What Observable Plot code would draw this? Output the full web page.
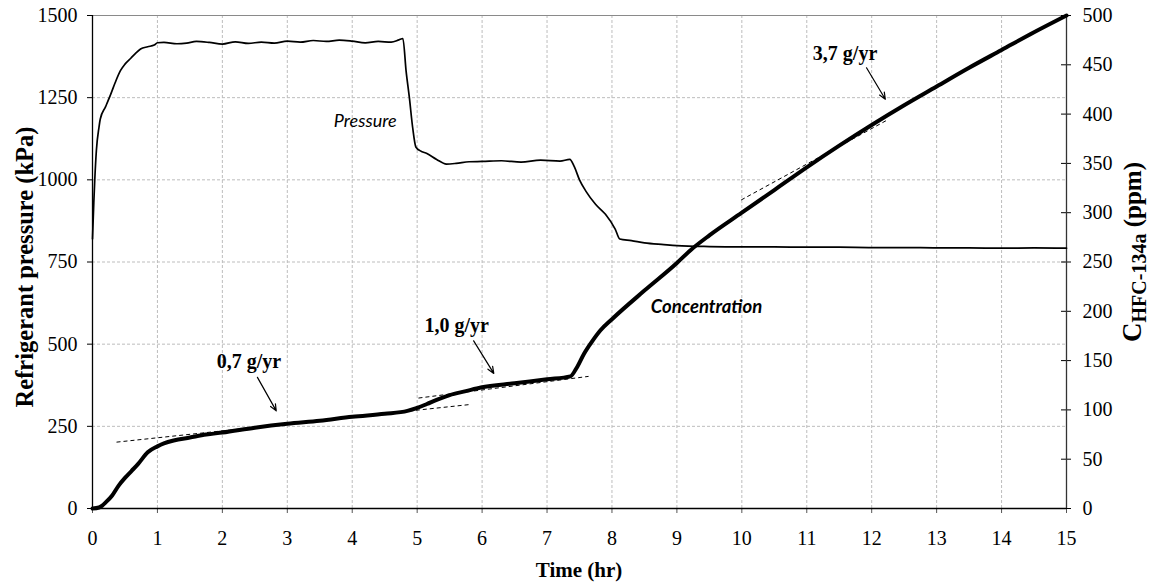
<!DOCTYPE html>
<html>
<head>
<meta charset="utf-8">
<script src="https://cdn.jsdelivr.net/npm/d3@7"></script>
<script src="https://cdn.jsdelivr.net/npm/@observablehq/plot@0.6"></script>
<style>
  html, body { margin: 0; padding: 0; background: #fff; }
  #chart svg { display: block; }
</style>
</head>
<body>
<div id="chart"></div>
<script>
// ---- Data ----
const xTicks = [0,1,2,3,4,5,6,7,8,9,10,11,12,13,14,15];
const pressureTicks = [0,250,500,750,1000,1250,1500];
const concTicks = [0,50,100,150,200,250,300,350,400,450,500];

const pressureT   = [0,0.02,0.035,0.06,0.1,0.12,0.2,0.28,0.35,0.43,0.5,0.59,0.67,0.74,0.85,0.95,1.0,1.1,1.3,1.45,1.6,1.8,2.0,2.2,2.4,2.6,2.8,3.0,3.2,3.4,3.6,3.8,4.0,4.2,4.4,4.6,4.72,4.78,4.83,4.88,4.93,4.98,5.05,5.15,5.3,5.45,5.6,5.8,6.0,6.3,6.6,6.9,7.2,7.35,7.42,7.5,7.6,7.75,7.9,8.05,8.12,8.3,8.5,8.8,9.0,9.5,10,10.5,11,11.5,12,12.5,13,13.5,14,14.5,15];
const pressureKPa = [820,930,1000,1090,1160,1185,1222,1260,1296,1332,1352,1370,1386,1398,1405,1410,1417,1418,1414,1416,1421,1418,1413,1420,1415,1419,1416,1422,1419,1424,1421,1425,1422,1417,1421,1419,1426,1430,1330,1250,1160,1100,1088,1080,1062,1048,1050,1055,1056,1058,1054,1060,1057,1062,1040,1000,965,925,895,850,820,815,808,803,800,797,796,796,795,795,794,794,793,793,792,793,792];

const concT   = [0,0.1,0.15,0.2,0.3,0.4,0.5,0.6,0.7,0.85,1.0,1.1,1.25,1.5,1.75,2.0,2.5,3.0,3.5,4.0,4.5,4.85,5.0,5.15,5.31,5.5,5.75,5.98,6.5,7.0,7.36,7.45,7.57,7.7,7.82,8.0,8.5,9.0,9.21,9.5,10,10.5,11,11.5,12,12.5,13,13.5,14,14.5,15];
const concPPM = [0,1,3,6,13,23,31,38,45,57,63,66,69,72,75,77,82,86,89,93,96,99,102,106,110.5,115,119,122.7,127,131,134,142,157,170,180.5,192,221,249,262,277,300,323,346,368,389,409,428,447,465,483,500];

// dashed trend lines (time, ppm)
const trendT1 = [0.37, 5.02, 9.99];
const trendT2 = [5.82, 7.64, 12.24];
const trendP1 = [67.3, 112.0, 312.9];
const trendP2 = [105.5, 134.0, 394.0];

// rate labels and arrows (time, ppm)
const rateLabels = ["0,7 g/yr", "1,0 g/yr", "3,7 g/yr"];
const rateLabelT = [2.41, 5.61, 11.59];
const rateLabelP = [149, 186, 461];
const arrowT1 = [2.54, 5.87, 11.92];
const arrowP1 = [133, 170, 447];
const arrowT2 = [2.83, 6.18, 12.21];
const arrowP2 = [99, 137, 415];

const seriesLabels = ["Pressure", "Concentration"];
const seriesLabelT = [4.20, 9.456];
const seriesLabelKPa = [1178, 612];

// ---- Tables built from arrays ----
const K = 3; // 1 ppm drawn as 3 kPa (500 ppm <-> 1500 kPa)
const pressure = pressureT.map((t,i) => ({t, v: pressureKPa[i]}));
const conc = concT.map((t,i) => ({t, v: concPPM[i]*K}));
const trends = trendT1.map((t,i) => ({t1: t, t2: trendT2[i], v1: trendP1[i]*K, v2: trendP2[i]*K}));
const rates = rateLabels.map((s,i) => ({s, t: rateLabelT[i], v: rateLabelP[i]*K}));
const arrows = arrowT1.map((t,i) => ({t1: t, v1: arrowP1[i]*K, t2: arrowT2[i], v2: arrowP2[i]*K}));
const sLabels = seriesLabels.map((s,i) => ({s, t: seriesLabelT[i], v: seriesLabelKPa[i]}));
const concTicksK = concTicks.map(d => d*K);

const serif = "'Liberation Serif', 'Times New Roman', serif";
const sans = "Lato, 'Open Sans', sans-serif";
const gridStyle = {stroke: "#bdbdbd", strokeOpacity: 1, strokeDasharray: "3,2", strokeWidth: 1};

const chart = Plot.plot({
  width: 1149,
  height: 585,
  marginLeft: 92,
  marginRight: 83,
  marginTop: 15,
  marginBottom: 77,
  style: {fontFamily: serif, fontSize: "20px", background: "#fff", color: "#000", overflow: "visible"},
  x: {domain: [0, 15]},
  y: {domain: [0, 1500]},
  marks: [
    Plot.gridX(xTicks.filter(d => d > 0 && d < 15), gridStyle),
    Plot.gridY(pressureTicks.filter(d => d > 0 && d < 1500), gridStyle),
    Plot.ruleY([1500], {stroke: "#8a8a8a", strokeWidth: 1.2}),
    Plot.axisX({ticks: xTicks, tickSize: 5, tickPadding: 17, tickFormat: d => String(d), label: null, stroke: "#555"}),
    Plot.axisY({ticks: pressureTicks, tickSize: 5, tickPadding: 10, tickFormat: d => String(d), label: null}),
    Plot.axisY({anchor: "right", ticks: concTicksK, tickSize: 0, tickPadding: 16, tickFormat: d => String(d / K), label: null}),
    Plot.ruleY(concTicksK, {x1: 14.923, x2: 15.077, stroke: "#000", strokeWidth: 1}),
    Plot.ruleX([0], {stroke: "#000", strokeWidth: 1.3}),
    Plot.ruleX([15], {stroke: "#333", strokeWidth: 1.3}),
    Plot.ruleY([0], {stroke: "#000", strokeWidth: 1.3}),
    Plot.link(trends, {x1: "t1", y1: "v1", x2: "t2", y2: "v2", stroke: "#000", strokeWidth: 1, strokeDasharray: "4,3"}),
    Plot.line(pressure, {x: "t", y: "v", curve: "monotone-x", stroke: "#000", strokeWidth: 1.7, strokeLinejoin: "round"}),
    Plot.line(conc, {x: "t", y: "v", curve: "monotone-x", stroke: "#000", strokeWidth: 4, strokeLinejoin: "round", strokeLinecap: "round"}),
    Plot.arrow(arrows, {x1: "t1", y1: "v1", x2: "t2", y2: "v2", stroke: "#000", strokeWidth: 1.2, headLength: 9, headAngle: 45}),
    Plot.text(rates, {x: "t", y: "v", text: "s", fontWeight: "bold", fontSize: 20, fontFamily: serif, lineAnchor: "middle", textAnchor: "middle"}),
    Plot.text(sLabels.slice(0,1), {x: "t", y: "v", text: "s", fontStyle: "italic", fontSize: 18, fontFamily: sans, lineAnchor: "middle", textAnchor: "middle"}),
    Plot.text(sLabels.slice(1), {x: "t", y: "v", text: "s", fontStyle: "italic", fontWeight: "bold", fontSize: 18.5, fontFamily: sans, lineAnchor: "middle", textAnchor: "middle"})
  ]
});

document.getElementById("chart").appendChild(chart);

// Axis titles
const svg = d3.select(chart);
svg.append("text")
  .attr("transform", "translate(579,577)")
  .attr("text-anchor", "middle")
  .attr("font-family", serif).attr("font-weight", "bold").attr("font-size", 21)
  .text("Time (hr)");
svg.append("text")
  .attr("transform", "translate(33,267) rotate(-90)")
  .attr("text-anchor", "middle")
  .attr("font-family", serif).attr("font-weight", "bold").attr("font-size", 24.5)
  .text("Refrigerant pressure (kPa)");
const rt = svg.append("text")
  .attr("transform", "translate(1141,252) rotate(-90)")
  .attr("text-anchor", "middle")
  .attr("font-family", serif).attr("font-weight", "bold");
rt.append("tspan").attr("font-size", 27).text("C");
rt.append("tspan").attr("font-size", 20).attr("dy", 5).text("HFC-134a");
rt.append("tspan").attr("font-size", 25).attr("dy", -5).text(" (ppm)");
</script>
</body>
</html>
